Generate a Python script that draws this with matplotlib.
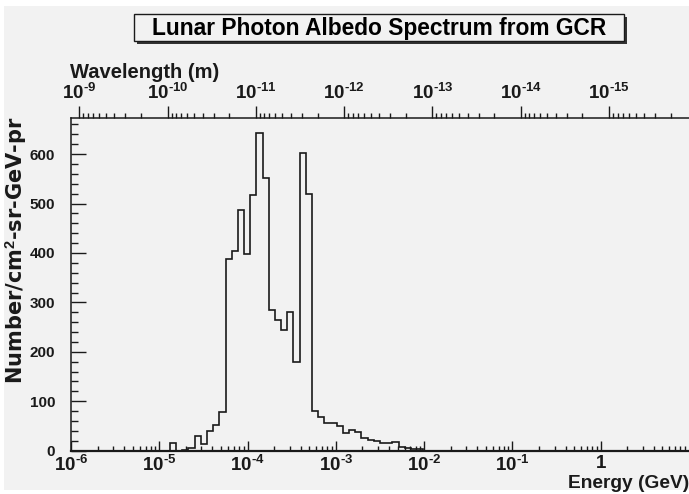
import numpy as np
import matplotlib
matplotlib.use('Agg')
import matplotlib.pyplot as plt
from matplotlib.patches import Rectangle
from matplotlib.ticker import FixedLocator, MultipleLocator, FixedFormatter, NullFormatter

# histogram: 100 log bins from 1e-6 to 10 GeV
bin_edges = np.logspace(-6, 1, 101)
counts = np.zeros(100)
first_bin = 16
bin_counts = [15, 0, 2, 6, 30, 13, 40, 52, 78,
              388, 403, 486, 398, 518, 642, 552, 284, 264, 244, 281, 179, 603, 520,
              81, 69, 57, 57, 49, 35, 41, 38, 25, 22, 19, 16, 15, 18, 8, 5, 3, 3]
counts[first_bin:first_bin + len(bin_counts)] = bin_counts

energy_exps = [-6, -5, -4, -3, -2, -1, 0]
wavelength_exps = [-9, -10, -11, -12, -13, -14, -15]
HC = 1.23984e-15  # GeV * m

title = 'Lunar Photon Albedo Spectrum from GCR'
xlabel = 'Energy (GeV)'
ylabel = 'Number/cm$^{\\text{2}}$-sr-GeV-pr'
toplabel = 'Wavelength (m)'

W, H = 689, 494
BG = '#f2f2f2'
INK = '#1a1a1a'

plt.rcParams['font.family'] = ['Liberation Sans', 'DejaVu Sans']
plt.rcParams['font.weight'] = 'bold'
plt.rcParams['mathtext.fontset'] = 'custom'
plt.rcParams['mathtext.rm'] = 'Liberation Sans:bold'
plt.rcParams['mathtext.it'] = 'Liberation Sans:bold'
plt.rcParams['mathtext.bf'] = 'Liberation Sans:bold'


def fx(x):
    return x / W


def fy(y):
    return 1 - y / H


def pow_label(e):
    return '10$^{\\text{%d}}$' % e


fig = plt.figure(figsize=(W / 100, H / 100), dpi=100, facecolor='white')
fig.patches.append(Rectangle((fx(4), fy(490)), fx(689 - 4), (490 - 6) / H,
                             transform=fig.transFigure, facecolor=BG, edgecolor='none', zorder=-10))

ax = fig.add_axes([fx(71), fy(450.7), fx(689 - 71), (450.7 - 118) / H])
ax.set_facecolor(BG)
ax.stairs(counts, bin_edges, color=INK, lw=1.2, baseline=0)
ax.set_xscale('log')
ax.set_xlim(1e-6, 10)
ax.set_ylim(0, 673)

for s in ['left', 'bottom', 'top']:
    ax.spines[s].set_color(INK)
    ax.spines[s].set_linewidth(1.1)
ax.spines['bottom'].set_linewidth(1.6)
ax.spines['right'].set_visible(False)

# bottom axis
ax.xaxis.set_major_locator(FixedLocator([10.0 ** e for e in energy_exps]))
ax.xaxis.set_major_formatter(FixedFormatter(['1' if e == 0 else pow_label(e) for e in energy_exps]))
ax.xaxis.set_minor_locator(FixedLocator([k * 10.0 ** e for e in range(-6, 1) for k in range(2, 10)]))
ax.xaxis.set_minor_formatter(NullFormatter())
ax.tick_params(axis='x', which='major', direction='in', length=7, width=1, colors=INK,
               labelsize=13.5, pad=3)
ax.tick_params(axis='x', which='minor', direction='in', length=3.5, width=1, colors=INK)

# left axis
ax.yaxis.set_major_locator(MultipleLocator(100))
ax.yaxis.set_minor_locator(MultipleLocator(20))
ax.tick_params(axis='y', which='major', direction='in', length=11, width=1, colors=INK,
               labelsize=11, pad=11.5)
ax.tick_params(axis='y', which='minor', direction='in', length=5, width=1, colors=INK)

# top axis: wavelength
top = ax.twiny()
top.set_xscale('log')
top.set_xlim(ax.get_xlim())
for s in top.spines.values():
    s.set_visible(False)
top.xaxis.set_major_locator(FixedLocator([HC / 10.0 ** e for e in wavelength_exps]))
top.xaxis.set_major_formatter(FixedFormatter([pow_label(e) for e in wavelength_exps]))
minor_e = [HC / (k * 10.0 ** e) for e in range(-16, -8) for k in range(2, 10)]
top.xaxis.set_minor_locator(FixedLocator([v for v in minor_e if 1e-6 < v < 10]))
top.xaxis.set_minor_formatter(NullFormatter())
top.tick_params(axis='x', which='major', direction='out', length=8.5, width=1, colors=INK,
                labelsize=13.5, pad=2.5)
top.tick_params(axis='x', which='minor', direction='out', length=3.5, width=1, colors=INK)

# texts
fig.text(fx(689), fy(483), xlabel, ha='right', va='center', fontsize=13.8, color=INK)
fig.text(fx(70), fy(72), toplabel, ha='left', va='center', fontsize=14.5, color=INK)
fig.text(fx(16), fy(117), ylabel, ha='center', va='top', rotation=90, fontsize=15,
         family=['DejaVu Sans'], color=INK)

# title box with shadow
bx0, bx1, by0, by1 = 134, 624, 14, 41
fig.patches.append(Rectangle((fx(bx0 + 3), fy(by1 + 3)), fx(bx1 - bx0), (by1 - by0) / H,
                             transform=fig.transFigure, facecolor='#333333', edgecolor='none', zorder=1))
fig.patches.append(Rectangle((fx(bx0), fy(by1)), fx(bx1 - bx0), (by1 - by0) / H,
                             transform=fig.transFigure, facecolor=BG, edgecolor=INK, lw=1, zorder=2))
fig.text(fx((bx0 + bx1) / 2), fy((by0 + by1) / 2 + 1), title, ha='center', va='center',
         fontsize=16.4, color='black', zorder=3)

fig.savefig('out.png', dpi=100, facecolor=fig.get_facecolor())
